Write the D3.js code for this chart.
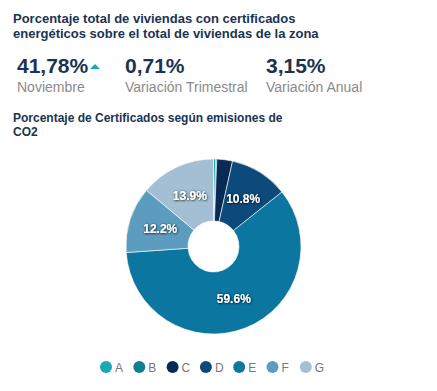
<!DOCTYPE html>
<html><head><meta charset="utf-8">
<script src="https://cdn.jsdelivr.net/npm/d3@7"></script>
<style>
body{margin:0;background:#fff;font-family:"Liberation Sans",Arial,sans-serif;}
</style></head>
<body><svg id="c" width="437" height="391"></svg>
<script>
const categories = ["A","B","C","D","E","F","G"];
const values = [0.4,0.2,2.9,10.8,59.6,12.2,13.9];
const colors = ["#1aa8b5","#127e93","#0a2a56","#0d4a7c","#0b76a0","#5c9cbe","#a4bfd3"];
const kpiValues = ["41,78%","0,71%","3,15%"];
const kpiLabels = ["Noviembre","Variación Trimestral","Variación Anual"];

const svg = d3.select("#c");
const navy = "#1b3352";
svg.append("text").attr("x",13).attr("y",23).attr("font-size",13).attr("font-weight","bold").attr("fill",navy)
  .text("Porcentaje total de viviendas con certificados");
svg.append("text").attr("x",13).attr("y",38).attr("font-size",13).attr("font-weight","bold").attr("fill",navy)
  .text("energéticos sobre el total de viviendas de la zona");

const kx = [17,125,266];
kpiValues.forEach((v,i)=>{
  svg.append("text").attr("x",kx[i]).attr("y",73).attr("font-size",21).attr("font-weight","bold").attr("fill",navy).text(v);
  svg.append("text").attr("x",kx[i]).attr("y",92).attr("font-size",14).attr("fill","#8a8a8a").text(kpiLabels[i]);
});
svg.append("path").attr("d","M90,69 L95,64 L100,69 Z").attr("fill","#1aa8b5");

svg.append("text").attr("x",13).attr("y",122).attr("font-size",12).attr("font-weight","bold").attr("fill",navy)
  .text("Porcentaje de Certificados según emisiones de");
svg.append("text").attr("x",13).attr("y",136).attr("font-size",12).attr("font-weight","bold").attr("fill",navy)
  .text("CO2");

const cx=213.5, cy=246.5, R=87.5, r0=25.5;
const pie = d3.pie().sort(null).value(d=>d);
const arcs = pie(values);
const arc = d3.arc().innerRadius(r0).outerRadius(R);
const lab = d3.arc().innerRadius(56).outerRadius(56);
const defs = svg.append("defs");
const f = defs.append("filter").attr("id","sh").attr("x","-20%").attr("y","-20%").attr("width","140%").attr("height","140%");
f.append("feDropShadow").attr("dx",0.5).attr("dy",0.5).attr("stdDeviation",0.9).attr("flood-color","#000").attr("flood-opacity",1);
const g = svg.append("g").attr("transform",`translate(${cx},${cy})`);
g.selectAll("path").data(arcs).enter().append("path")
  .attr("d",arc).attr("fill",(d,i)=>colors[i]).attr("stroke","#fff").attr("stroke-width",0.6);
g.selectAll("text").data(arcs.filter(d=>d.data>=5)).enter().append("text")
  .attr("transform",d=>`translate(${lab.centroid(d)})`)
  .attr("text-anchor","middle").attr("dy","0.35em")
  .attr("font-size",12).attr("font-weight","bold").attr("fill","#fff").attr("filter","url(#sh)")
  .text(d=>d.data.toFixed(1)+"%");

const lg = svg.append("g");
categories.forEach((c,i)=>{
  const x = 106 + i*33.3;
  lg.append("circle").attr("cx",x).attr("cy",367).attr("r",6).attr("fill",colors[i]);
  lg.append("text").attr("x",x+9).attr("y",371.5).attr("font-size",12).attr("fill","#777").text(c);
});
</script></body></html>
